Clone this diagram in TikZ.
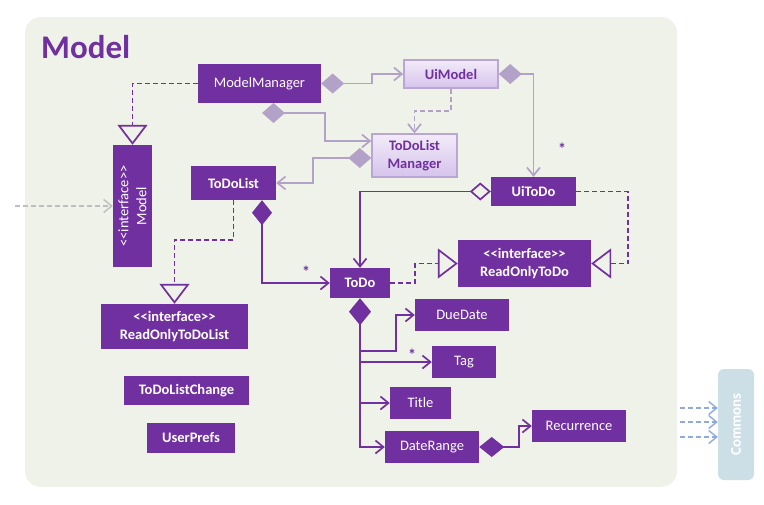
\documentclass[tikz,border=0pt]{standalone}
\usepackage{fontspec}
\setmainfont{Carlito}
\usetikzlibrary{arrows.meta}
\definecolor{mpurple}{RGB}{112,48,160}
\definecolor{lpurple}{RGB}{179,162,199}
\definecolor{mbg}{RGB}{239,242,232}
\definecolor{cblue}{RGB}{204,223,230}
\definecolor{ablue}{RGB}{143,170,220}
\definecolor{agray}{RGB}{190,190,190}
\definecolor{uitop}{RGB}{242,235,249}
\definecolor{uibot}{RGB}{214,195,235}
\definecolor{uiedge}{RGB}{186,166,212}
\newcommand{\stereo}[1]{<\kern0pt<#1>\kern0pt>}

\begin{document}
\begin{tikzpicture}[x=1pt, y=-1pt,
    cls/.style={fill=mpurple, text=white, align=center, inner sep=0pt,
        font=\fontsize{14.5}{18}\selectfont\bfseries},
    plain/.style={cls, font=\fontsize{14.5}{18}\selectfont},
    uicls/.style={draw=uiedge, line width=1.5pt, top color=uitop, bottom color=uibot,
        text=mpurple, align=center, inner sep=0pt, font=\fontsize{14.5}{18}\selectfont\bfseries},
    pline/.style={mpurple, line width=1.7pt},
    lline/.style={lpurple, line width=1.7pt},
    dsh/.style={dash pattern=on 5pt off 3pt},
    barb/.style={-{Straight Barb[length=8pt,width=13pt]}},
    tri/.style={-{Triangle[open,length=20pt,width=30pt]}},
    dia/.style={{Diamond[length=23pt,width=20pt]}-{Straight Barb[length=8pt,width=13pt]}},
    odia/.style={{Diamond[open,length=21pt,width=18pt]}-{Straight Barb[length=8pt,width=13pt]}},
    ddia/.style={{Diamond[length=25pt,width=20pt]}-{Straight Barb[length=8pt,width=13pt]}},
    bdia/.style={{Diamond[length=27pt,width=22pt]}-{Straight Barb[length=8pt,width=13pt]}},
    star/.style={text=mpurple, inner sep=0pt, font=\fontsize{16}{16}\selectfont\bfseries}]

\useasboundingbox (0,0) rectangle (764,504);
\fill[white] (0,0) rectangle (764,504);
\fill[mbg, rounded corners=16pt] (25,17) rectangle (677,487);
\node[anchor=base west, text=mpurple, inner sep=0pt, font=\fontsize{33}{33}\selectfont\bfseries] (ttl) at (41,58) {Model};

% classes
\node[plain, minimum width=123pt, minimum height=39pt] (mm) at (259.5,83.5) {ModelManager};
\node[uicls, minimum width=94pt, minimum height=28pt] (uim) at (451,74) {UiModel};
\node[uicls, minimum width=85pt, minimum height=43pt] (tlm) at (414.5,155.5) {ToDoList\\Manager};
\node[plain, rotate=90, minimum width=122pt, minimum height=39pt] (model) at (132.5,206) {\stereo{interface}\\Model};
\node[cls, minimum width=85pt, minimum height=34pt] (tdl) at (233.5,183) {ToDoList};
\node[cls, minimum width=147pt, minimum height=45pt] (rotdl) at (174.5,326.5) {\stereo{interface}\\ReadOnlyToDoList};
\node[cls, minimum width=125pt, minimum height=29pt] (tdlc) at (186.5,390.5) {ToDoListChange};
\node[cls, minimum width=88pt, minimum height=30pt] (up) at (191,438) {UserPrefs};
\node[cls, minimum width=85pt, minimum height=29pt] (uitd) at (533.5,191.5) {UiToDo};
\node[cls, minimum width=133pt, minimum height=47pt] (rotd) at (524.5,263.5) {\stereo{interface}\\ReadOnlyToDo};
\node[cls, minimum width=60pt, minimum height=30pt] (todo) at (360,283) {ToDo};
\node[plain, minimum width=94pt, minimum height=32pt] (dd) at (462,315) {DueDate};
\node[plain, minimum width=64pt, minimum height=32pt] (tag) at (464,362) {Tag};
\node[plain, minimum width=61pt, minimum height=32pt] (title) at (420.5,403) {Title};
\node[plain, minimum width=94pt, minimum height=32pt] (dr) at (432,447) {DateRange};
\node[plain, minimum width=94pt, minimum height=32pt] (rec) at (579,426) {Recurrence};
\node[fill=cblue, rounded corners=6pt, rotate=90, minimum width=111pt, minimum height=36pt,
    text=white, font=\fontsize{15}{15}\selectfont\bfseries] (cmn) at (736,424.5) {Commons};

% links
\draw[pline, dsh, tri] (mm.west) -| (model.east);
\draw[lline, dia] (mm.east) -- (372,83.5) |- (uim.west);
\coordinate (mmd) at (262,113);
\draw[lline, dia] (mmd) -- (325,113) |- (tlm.west |- 0,141);
\draw[lline, dia] (tlm.west |- 0,158) -- (313,158) |- (tdl.east);
\draw[lline, dia] (uim.east) -| (uitd.north);
\draw[lline, dsh, barb] (uim.south) -- (451,111) -| (tlm.north);
\node[star] (s1) at (562,149) {*};

\draw[pline, odia] (uitd.west) -| (todo.north);
\draw[pline, dsh, tri] (uitd.east) -- (628,191.5) |- (rotd.east);
\draw[pline, dsh, tri] (todo.east) -- (415,283) |- (rotd.west);
\draw[pline, ddia] (tdl.south -| 262,0) |- (todo.west);
\node[star] (s2) at (306,272) {*};
\draw[pline, dsh, tri] (tdl.south) -- (233.5,240) -| (rotdl.north);

\draw[pline, bdia] (todo.south) |- (dr.west);
\draw[pline, barb] (todo.south |- 0,351) -- (396,351) |- (dd.west);
\draw[pline, barb] (todo.south |- tag.west) -- (tag.west);
\draw[pline, barb] (todo.south |- title.west) -- (title.west);
\node[star] (s3) at (412,355) {*};
\draw[pline, ddia] (dr.east) -- (519,447) |- (rec.west);

\coordinate (ext) at (15,206);
\draw[agray, line width=1.4pt, dsh, barb] (ext) -- (model.north);
\foreach \y in {408,422,437} {
    \coordinate (c\y) at (680,\y);
    \draw[ablue, line width=1.4pt, dsh, barb] (c\y) -- (cmn.north |- c\y);
}

\end{tikzpicture}
\end{document}
